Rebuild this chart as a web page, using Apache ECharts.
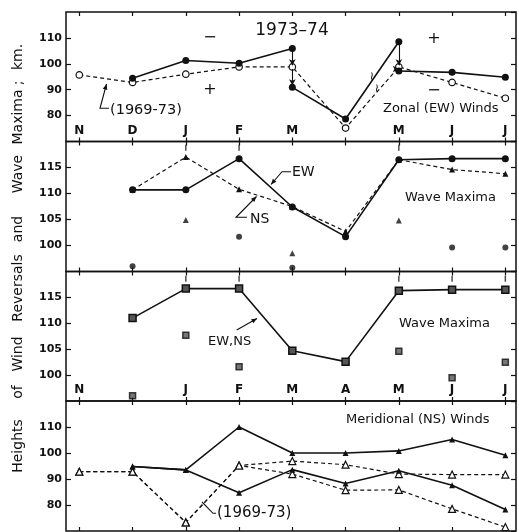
<!DOCTYPE html>
<html><head><meta charset="utf-8">
<script src="https://cdn.jsdelivr.net/npm/echarts@6/dist/echarts.min.js"></script>
<style>html,body{margin:0;padding:0;background:#fff}#c{width:519px;height:532px}</style>
</head><body><div id="c"></div>
<script>
// ---------- data ----------
const months = ['N','D','J','F','M','A','M','J','J'];
// Panel 1: Zonal (EW) winds, reversal heights (km)
const zonal7374 = [null, 94.4, 101.3, 100.2, 105.9, 78.7, 108.5, 96.7, 94.8];
const zonal7374Shift = [null, null, null, null, 90.9, null, 97.2, null, null];
const zonal6973 = [95.7, 92.8, 96.0, 98.8, 98.8, 75.2, 98.8, 92.8, 86.7];
// Panel 2: wave maxima EW / NS
const waveEW = [null, 110.7, 110.7, 116.7, 107.4, 101.7, 116.5, 116.7, 116.7];
const waveNS = [null, 110.7, 117.0, 110.8, 107.5, 102.7, 116.5, 114.6, 113.8];
const waveEW2 = [null, 96.0, null, 101.7, 95.7, null, null, 99.6, 99.6];
const waveNS2 = [null, null, 104.9, null, 98.5, null, 104.8, null, null];
const wave2Upper = [null, null, 118.8, 118.8, null, null, 118.8, null, null];
// Panel 3: wave maxima EW,NS combined
const waveBoth = [null, 111.0, 116.7, 116.7, 104.7, 102.6, 116.3, 116.5, 116.5];
const waveBoth2 = [null, 96.0, 107.7, 101.6, null, null, 104.6, 99.5, 102.5];
const wave3Upper = [null, null, 118.6, 118.6, null, null, 118.6, 118.6, 118.6];
// Panel 4: Meridional (NS) winds
const ns7374Upper = [null, 94.8, 93.5, 110.0, 100.0, 100.0, 100.8, 105.2, 99.1];
const ns7374Lower = [null, 94.8, 93.5, 84.7, 93.6, 88.3, 93.2, 87.6, 78.3];
const ns6973Upper = [92.8, 92.8, 73.3, 95.2, 96.9, 95.5, 91.9, 91.7, 91.7];
const ns6973Lower = [92.8, 92.8, 73.3, 95.2, 91.9, 85.7, 85.8, 78.5, 71.5];
// axis settings
const yRanges = [[70,120,10],[95,120,5],[95,120,5],[70,120,10]];
const monthIdx = [0,1,2,3,4,5,6,7,8];
const labelIdx = [[0,1,2,3,4,6,7,8], [], [0,2,3,4,5,6,7,8], []];

// ---------- helpers ----------
const FONT = 'DejaVu Sans';
const INK = '#111';
function pairs(arr){ const o=[]; arr.forEach((v,i)=>{ if(v!=null) o.push([i,v]); }); return o; }
function segments(main, shift){
  const segs=[]; let cur=[];
  main.forEach((v,i)=>{
    if(v==null) return;
    cur.push([i,v]);
    if(shift[i]!=null){ segs.push(cur); cur=[[i,shift[i]]]; }
  });
  segs.push(cur); return segs;
}

const tops=[12,141.5,271.5,401], heights=[129.5,130,129.5,130];
const grid=[], xAxis=[], yAxis=[];
const noLine = {show:false, onZero:false};
for(let g=0; g<4; g++){
  grid.push({left:66, width:450, top:tops[g], height:heights[g], show:true,
    borderColor:INK, borderWidth:1.5, backgroundColor:'transparent'});
  xAxis.push({type:'value', gridIndex:g, position:'bottom', min:-0.25, max:8.2,
    axisLine:noLine, splitLine:{show:false},
    axisTick:{show:true, inside:true, length:4, customValues:monthIdx, lineStyle:{color:INK,width:1.2}},
    axisLabel:{show:labelIdx[g].length>0, inside:true, margin:5, customValues:labelIdx[g],
      formatter:v=>months[Math.round(v)], fontFamily:FONT, fontWeight:'bold', fontSize:12, color:INK}});
  xAxis.push({type:'value', gridIndex:g, position:'top', min:-0.25, max:8.2,
    axisLine:noLine, splitLine:{show:false},
    axisTick:{show:true, inside:true, length:4, customValues:monthIdx, lineStyle:{color:INK,width:1.2}},
    axisLabel:{show:false}});
  const [mn,mx,iv]=yRanges[g];
  yAxis.push({type:'value', gridIndex:g, position:'left', min:mn, max:mx, interval:iv,
    axisLine:noLine, splitLine:{show:false},
    axisTick:{show:true, inside:true, length:5, lineStyle:{color:INK,width:1.2}},
    axisLabel:{showMinLabel:false, showMaxLabel:false, margin:4, fontFamily:FONT, fontWeight:'bold', fontSize:11, color:INK}});
  yAxis.push({type:'value', gridIndex:g, position:'right', min:mn, max:mx, interval:iv,
    axisLine:noLine, splitLine:{show:false},
    axisTick:{show:true, inside:true, length:5, lineStyle:{color:INK,width:1.2}},
    axisLabel:{show:false}});
}
function ax(g){ return {xAxisIndex:2*g, yAxisIndex:2*g}; }
const solid = {color:INK, width:1.6};
const dashed = {color:INK, width:1.2, type:[4,3]};
const series=[];
function line(g, data, ls, sym, size, item){
  series.push(Object.assign({type:'line', data, lineStyle:ls, symbol:sym, symbolSize:size,
    itemStyle:item, z:3}, ax(g)));
}
function scatter(g, data, sym, size, item){
  series.push(Object.assign({type:'scatter', data, symbol:sym, symbolSize:size, itemStyle:item, z:4}, ax(g)));
}
const filled = {color:INK};
const openM = {color:'#fff', borderColor:INK, borderWidth:1.2};

// Panel 1
line(0, pairs(zonal6973), dashed, 'circle', 6.5, openM);
segments(zonal7374, zonal7374Shift).forEach(s=>line(0, s, solid, 'circle', 7, filled));
const arrows=[];
zonal7374Shift.forEach((v,i)=>{
  if(v==null) return;
  const top=zonal7374[i], mid=zonal6973[i];
  if(mid < top && mid > v){
    arrows.push([{coord:[i,top-0.8]},{coord:[i,mid+0.6]}]);
    arrows.push([{coord:[i,mid-0.8]},{coord:[i,v+0.8]}]);
  } else {
    arrows.push([{coord:[i,top-0.8]},{coord:[i,v+1.5]}]);
  }
});
series.push(Object.assign({type:'line', data:[], markLine:{silent:true, symbol:['none','arrow'], symbolSize:[5,6],
  label:{show:false}, lineStyle:{color:INK, width:1.1, type:'solid'}, data:arrows}}, ax(0)));

// Panel 2
line(1, pairs(waveNS), dashed, 'triangle', 6, filled);
line(1, pairs(waveEW), solid, 'circle', 7, filled);
scatter(1, pairs(waveEW2), 'circle', 6, filled);
scatter(1, pairs(waveNS2), 'triangle', 6, filled);
scatter(1, pairs(wave2Upper), 'rect', [1.4,6], filled);

// Panel 3
line(2, pairs(waveBoth), solid, 'rect', 7, {color:'#555', borderColor:INK, borderWidth:1.5});
scatter(2, pairs(waveBoth2), 'rect', 6, {color:'#555', borderColor:INK, borderWidth:1.5});
scatter(2, pairs(wave3Upper), 'rect', [1.4,6], filled);

// Panel 4
line(3, pairs(ns6973Upper), dashed, 'triangle', 7, openM);
line(3, pairs(ns6973Lower), dashed, 'triangle', 7, openM);
line(3, pairs(ns7374Upper), solid, 'triangle', 6, filled);
line(3, pairs(ns7374Lower), solid, 'triangle', 6, filled);

// ---------- annotations ----------
function txt(x,y,s,size,opts){
  return Object.assign({type:'text', x, y, z:10, style:{text:s, fill:INK, font:(opts&&opts.weight||'normal')+' '+size+'px "'+FONT+'"',
    textAlign:(opts&&opts.align)||'left', textVerticalAlign:'middle'}}, opts&&opts.rot?{rotation:opts.rot}:{});
}
function poly(points, arrow){
  const els=[{type:'polyline', z:10, shape:{points}, style:{stroke:INK, lineWidth:1.1, fill:null}}];
  if(arrow){
    const [x1,y1]=points[points.length-2], [x2,y2]=points[points.length-1];
    const a=Math.atan2(y2-y1,x2-x1), L=6, w=0.4;
    els.push({type:'polygon', z:10, shape:{points:[[x2,y2],[x2-L*Math.cos(a-w),y2-L*Math.sin(a-w)],[x2-L*Math.cos(a+w),y2-L*Math.sin(a+w)]]}, style:{fill:INK}});
  }
  return els;
}
const titleWords=[['Heights',446],['of',392],['Wind',354],['Reversals',288],['and',229],['Wave',174],['Maxima',117],[';',83],['km.',57]];
const graphic=[
  txt(292,31,'1973–74',17,{align:'center'}),
  txt(210,38,'−',16,{align:'center'}), txt(210,90,'+',16,{align:'center'}),
  txt(434,39,'+',16,{align:'center'}), txt(434,91,'−',16,{align:'center'}),
  txt(383,109,'Zonal (EW) Winds',13),
  txt(110,110,'(1969-73)',14.5),
  txt(372,77,'≀',12,{align:'center'}), txt(377,89,'≀',12,{align:'center'}),
  txt(292,172.7,'EW',14), txt(250,219,'NS',14),
  txt(405,198,'Wave Maxima',13),
  txt(208,341.7,'EW,NS',13),
  txt(399,324,'Wave Maxima',13),
  txt(346,420,'Meridional (NS) Winds',13),
  txt(217,513,'(1969-73)',15),
  ...poly([[109,108.3],[100,108.3],[106.5,84]],true),
  ...poly([[291,171.7],[282,171.7],[271,184.5]],true),
  ...poly([[247,217.3],[236,217.3],[256.5,196.5]],true),
  ...poly([[236.7,330],[257,318.5]],true),
  ...poly([[216,513.3],[213,513.3],[202,502]],false),
  ...titleWords.map(([w,y])=>txt(18,y,w,14,{align:'center',rot:Math.PI/2}))
];

const chart = echarts.init(document.getElementById('c'), null, {renderer:'canvas'});
chart.setOption({animation:false, backgroundColor:'#fff', grid, xAxis, yAxis, series, graphic});
</script></body></html>
